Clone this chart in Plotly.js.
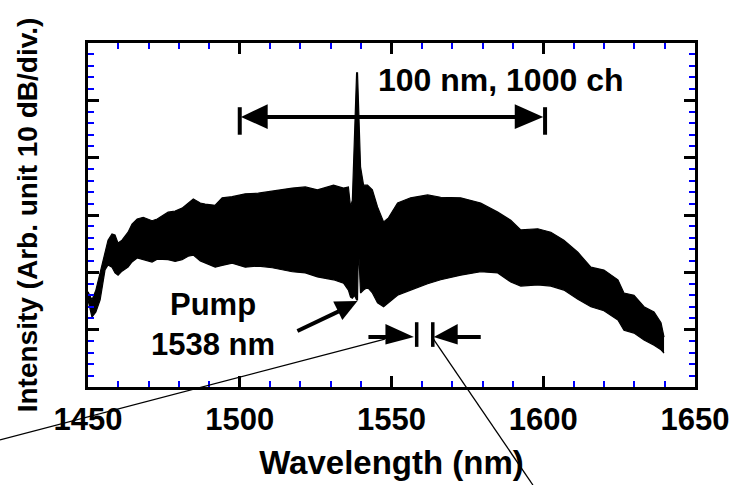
<!DOCTYPE html>
<html>
<head>
<meta charset="utf-8">
<script src="https://cdn.plot.ly/plotly-3.0.1.min.js"></script>
<style>html,body{margin:0;padding:0;background:#fff;}#chart{width:740px;height:485px;}</style>
</head>
<body>
<div id="chart"></div>
<script>
// Wavelength samples (nm) of the measured spectrum envelope
const wavelength = [1450.0,1451.3,1452.6,1454.0,1455.6,1456.6,1457.9,1458.9,1459.9,1461.2,1463.2,1464.5,1466.2,1468.2,1471.1,1472.8,1476.4,1478.7,1481.0,1483.0,1484.7,1487.0,1488.6,1491.9,1494.2,1497.5,1501.8,1506.1,1510.7,1515.0,1517.3,1521.6,1525.6,1530.9,1534.2,1535.8,1536.5,1537.1,1537.8,1538.5,1538.8,1539.1,1539.8,1540.8,1542.1,1543.7,1545.4,1547.4,1549.0,1552.0,1556.3,1561.9,1566.2,1572.8,1579.4,1585.0,1589.3,1592.6,1598.2,1602.5,1606.8,1611.4,1615.7,1620.0,1624.6,1626.6,1629.9,1633.2,1636.5,1638.8,1639.8];
// Upper envelope of the dense channel comb (arb. dB, 10 dB/div)
const upperDb = [16.6,15.2,16.9,20.1,23.4,25.6,26.7,26.5,25.1,25.6,27.0,28.4,29.3,29.6,29.0,29.3,30.5,30.7,31.2,32.1,32.8,32.1,31.9,31.7,33.0,33.2,33.7,33.8,34.2,34.5,34.7,34.9,34.4,35.2,34.7,34.9,31.4,32.6,43.1,54.8,54.8,48.3,38.4,35.2,35.2,34.4,31.4,28.8,29.5,32.1,33.0,33.5,33.1,33.0,32.1,30.5,29.1,27.4,27.6,27.0,25.6,23.5,20.9,20.4,18.7,16.4,16.0,14.0,13.1,11.2,8.7];
// Lower envelope of the channel comb
const lowerDb = [15.2,12.2,13.1,15.2,20.4,21.3,20.9,19.9,19.5,20.2,20.9,21.8,22.5,22.2,21.8,22.3,22.2,21.9,22.2,22.8,23.0,22.0,21.6,20.9,21.2,21.6,20.9,21.1,20.8,20.4,20.1,19.9,19.2,18.7,18.1,16.9,15.7,15.5,16.0,15.2,15.2,24.8,16.4,16.9,17.4,16.4,14.7,14.0,14.7,16.0,16.9,18.0,18.7,19.5,20.1,19.9,18.3,17.6,17.8,17.6,16.9,15.3,14.0,13.3,11.7,9.9,9.4,8.2,7.3,6.5,5.9];
const xTickVals = [1450,1500,1550,1600,1650];
const xTickText = ['1450','1500','1550','1600','1650'];

const FONT = 'Arial, "Liberation Sans", Helvetica, sans-serif';

const traces = [
  {x: wavelength, y: lowerDb, type:'scatter', mode:'lines', line:{color:'#000', width:1.2}, hoverinfo:'skip', showlegend:false},
  {x: wavelength, y: upperDb, type:'scatter', mode:'lines', fill:'tonexty', fillcolor:'#000', line:{color:'#000', width:1.2}, showlegend:false}
];

const blk = {color:'#000', width:0};
function tri(p){ return {type:'path', xref:'x', yref:'y', path:p, fillcolor:'#000', line:blk, layer:'above'}; }
function seg(x0,y0,x1,y1,w){ return {type:'line', xref:'x', yref:'y', x0:x0, y0:y0, x1:x1, y1:y1, line:{color:'#000', width:w}, layer:'above'}; }

const shapes = [
  // 100 nm span arrow
  seg(1502,47.1,1598,47.1,4),
  seg(1500,44.0,1500,48.8,4),
  seg(1600.6,44.0,1600.6,48.8,4),
  tri('M1500.4,47.1 L1509.2,49.3 L1509.2,45.0 Z'),
  tri('M1600,47.1 L1590.6,49.3 L1590.6,45.0 Z'),
  // pump arrow
  seg(1519.0,9.77,1532.6,13.2,4),
  tri('M1538.8,15.0 L1533.8,11.7 L1530.8,14.9 Z'),
  // channel spacing arrows
  seg(1542.4,8.72,1549,8.72,4),
  tri('M1557.4,8.72 L1548.0,11.0 L1548.0,7.4 Z'),
  seg(1558.3,7.0,1558.3,11.3,3.5),
  seg(1563.6,7.0,1563.6,11.3,3.5),
  tri('M1563.9,8.72 L1571.8,11.0 L1571.8,7.4 Z'),
  seg(1571,8.72,1579.4,8.72,4),
  // thin pointer lines
  {type:'line', xref:'paper', yref:'paper', x0:-0.145, y0:-0.154, x1:0.489, y1:0.1395, line:{color:'#000', width:1.3}, layer:'above'},
  {type:'line', xref:'paper', yref:'paper', x0:0.568, y0:0.142, x1:0.733, y1:-0.285, line:{color:'#000', width:1.3}, layer:'above'}
];

const annotations = [
  {x:1586, y:53.6, xref:'x', yref:'y', text:'<b>100 nm, 1000 ch</b>', showarrow:false, font:{family:FONT, size:32, color:'#000'}},
  {x:1491.3, y:10.9, xref:'x', yref:'y', text:'<b>Pump<br>1538 nm</b>', showarrow:false, font:{family:FONT, size:31, color:'#000'}}
];

const axisCommon = {
  showline:true, linecolor:'#000', linewidth:3, mirror:'allticks',
  ticks:'inside', ticklen:11, tickwidth:3, tickcolor:'#000',
  showgrid:false, zeroline:false,
  minor:{ticks:'inside', ticklen:6, tickwidth:2, tickcolor:'#0000ff', showgrid:false}
};

const layout = {
  width:740, height:485,
  margin:{l:88, r:45, t:43, b:98},
  paper_bgcolor:'#fff', plot_bgcolor:'#fff',
  showlegend:false,
  xaxis: Object.assign({}, axisCommon, {
    range:[1450,1650], tickvals:xTickVals, ticktext:xTickText,
    minor:Object.assign({}, axisCommon.minor, {dtick:10}),
    ticklabelstandoff:3,
    tickfont:{family:FONT, size:31, color:'#000', weight:'bold'},
    title:{text:'Wavelength (nm)', font:{family:FONT, size:33, color:'#000', weight:'bold'}, standoff:15}
  }),
  yaxis: Object.assign({}, axisCommon, {
    range:[0,60], dtick:10, tick0:0, showticklabels:false,
    minor:Object.assign({}, axisCommon.minor, {dtick:2}),
    title:{text:'Intensity (Arb. unit 10 dB/div.)', font:{family:FONT, size:28, color:'#000', weight:'bold'}, standoff:40}
  }),
  shapes: shapes,
  annotations: annotations
};

Plotly.newPlot('chart', traces, layout, {staticPlot:true, displayModeBar:false});
</script>
</body>
</html>
